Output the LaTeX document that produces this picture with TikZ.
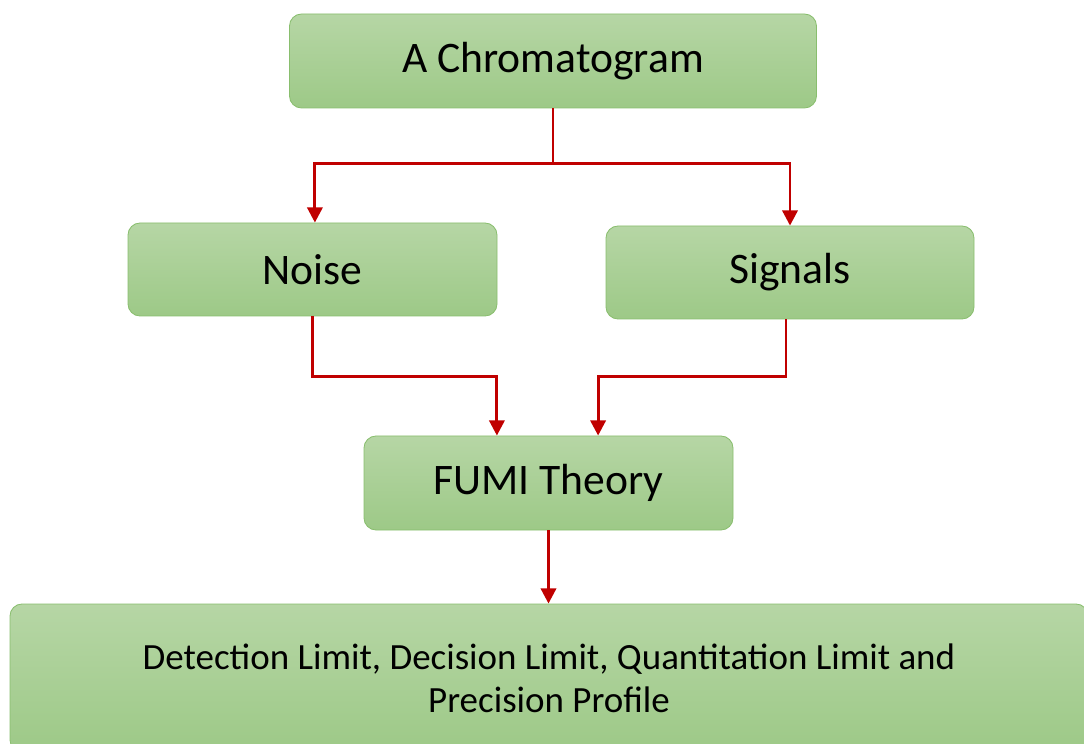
\documentclass[tikz,border=0pt]{standalone}
\usepackage{fontspec}
\setmainfont{Carlito}
\usetikzlibrary{arrows.meta}
\definecolor{boxtop}{RGB}{182,214,165}
\definecolor{boxbottom}{RGB}{157,201,135}
\definecolor{boxline}{RGB}{137,190,110}
\definecolor{linkred}{RGB}{192,0,0}
\begin{document}
\begin{tikzpicture}
  [
    font=\fontsize{31}{37}\selectfont,
    step box/.style={rectangle,rounded corners=0.3cm,draw=boxline,line width=0.6pt,
      top color=boxtop,bottom color=boxbottom,minimum height=2.35cm,align=center},
    link/.style={draw=linkred,line width=2.1pt,-{Triangle[width=0.38cm,length=0.38cm]}},
  ]
  \useasboundingbox (0,0) rectangle (27.1,-18.6);

  \node(top)[step box,minimum width=13.175cm] at (13.825,-1.525){A Chromatogram};
  \node(noise)[step box,minimum width=9.225cm,minimum height=2.325cm] at (7.8125,-6.7375){Noise};
  \node(signals)[step box,minimum width=9.2cm,minimum height=2.325cm] at (19.75,-6.8125){Signals};
  \node(fumi)[step box,minimum width=9.225cm] at (13.7125,-12.075){FUMI Theory};
  \node(result)[step box,minimum width=26.95cm,minimum height=3.7cm,
    font=\fontsize{26.3}{30.5}\selectfont] at (13.725,-16.95)
    {Detection Limit, Decision Limit, Quantitation Limit and\\Precision Profile};

  \draw[link] (top.south) -- ++(0,-1.375) -| ([xshift=0.06cm]noise.north);
  \draw[link] (top.south) -- ++(0,-1.375) -| (signals.north);
  \draw[link] (noise.south) -- ++(0,-1.5) -| ([xshift=-1.29cm]fumi.north);
  \draw[link] ([xshift=-0.1cm]signals.south) -- ++(0,-1.425) -| ([xshift=1.24cm]fumi.north);
  \draw[link] (fumi.south) -- (fumi.south |- result.north);

\end{tikzpicture}
\end{document}
